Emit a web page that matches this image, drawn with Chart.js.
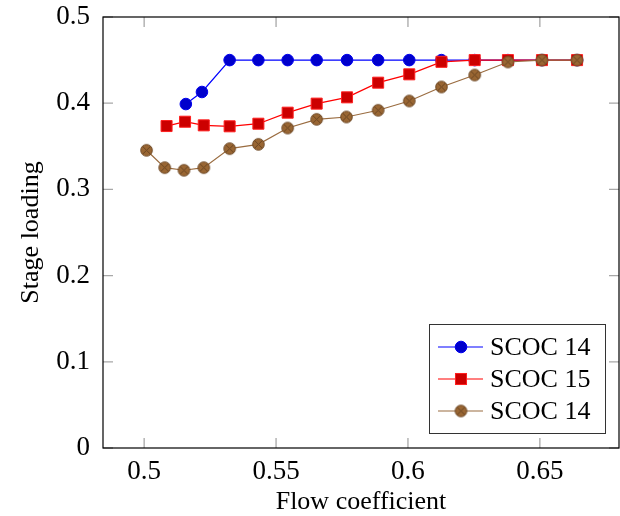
<!DOCTYPE html>
<html>
<head>
<meta charset="utf-8">
<script src="https://cdn.jsdelivr.net/npm/chart.js@4/dist/chart.umd.min.js"></script>
<style>
  html, body { margin: 0; padding: 0; background: #fff; }
  #wrap { width: 620px; height: 516px; }
</style>
</head>
<body>
<div id="wrap"><canvas id="myChart" width="620" height="516"></canvas></div>
<script>
// valeurs
const flowBlue = [0.5158, 0.5219, 0.5324, 0.5433, 0.5544, 0.5654, 0.5769, 0.5887, 0.6005, 0.6127, 0.6253, 0.6379, 0.6508, 0.6641];
const loadBlue = [0.399, 0.413, 0.45, 0.45, 0.45, 0.45, 0.45, 0.45, 0.45, 0.45, 0.45, 0.45, 0.45, 0.45];

const flowRed = [0.5085, 0.5155, 0.5226, 0.5324, 0.5433, 0.5544, 0.5654, 0.5769, 0.5887, 0.6005, 0.6127, 0.6253, 0.6379, 0.6508, 0.6641];
const loadRed = [0.3735, 0.3785, 0.3743, 0.3732, 0.3762, 0.389, 0.3995, 0.4068, 0.4238, 0.4335, 0.448, 0.45, 0.45, 0.45, 0.45];

const flowBrown = [0.5009, 0.5078, 0.5151, 0.5226, 0.5324, 0.5433, 0.5544, 0.5654, 0.5767, 0.5887, 0.6005, 0.6127, 0.6253, 0.6379, 0.6508, 0.6641];
const loadBrown = [0.3454, 0.3252, 0.3222, 0.3252, 0.3473, 0.3523, 0.3712, 0.3813, 0.384, 0.3918, 0.4026, 0.4188, 0.4327, 0.4478, 0.45, 0.45];

const seriesNames = ['SCOC 14', 'SCOC 15', 'SCOC 14'];
const xTicks = [0.5, 0.55, 0.6, 0.65];
const yTicks = [0, 0.1, 0.2, 0.3, 0.4, 0.5];

const serif = "'Liberation Serif', 'DejaVu Serif', serif";

// marque cercle avec croix (otimes)
const makeOtimes = (r) => {
  const c = document.createElement('canvas');
  const s = Math.ceil(2 * r + 3);
  c.width = s; c.height = s;
  const g = c.getContext('2d');
  const m = s / 2;
  g.fillStyle = '#996633';
  g.strokeStyle = '#6a4522';
  g.lineWidth = 1;
  g.beginPath(); g.arc(m, m, r, 0, 2 * Math.PI); g.fill(); g.stroke();
  const d = r * Math.SQRT1_2;
  g.beginPath();
  g.moveTo(m - d, m - d); g.lineTo(m + d, m + d);
  g.moveTo(m + d, m - d); g.lineTo(m - d, m + d);
  g.stroke();
  return c;
};
const otimes = makeOtimes(5.8);

const toPoints = (xs, ys) => xs.map((x, i) => ({ x: x, y: ys[i] }));

// cadre, graduations vers l'interieur et legende
const axisPlugin = {
  id: 'axisBox',
  afterDraw(chart) {
    const ctx = chart.ctx;
    const a = chart.chartArea;
    const xs = chart.scales.x, ys = chart.scales.y;
    ctx.save();
    ctx.strokeStyle = '#a8a8a8';
    ctx.lineWidth = 1.3;
    const tl = 10;
    xTicks.forEach(v => {
      const px = xs.getPixelForValue(v);
      ctx.beginPath();
      ctx.moveTo(px, a.bottom); ctx.lineTo(px, a.bottom - tl);
      ctx.moveTo(px, a.top); ctx.lineTo(px, a.top + tl);
      ctx.stroke();
    });
    yTicks.forEach(v => {
      const py = ys.getPixelForValue(v);
      ctx.beginPath();
      ctx.moveTo(a.left, py); ctx.lineTo(a.left + tl, py);
      ctx.moveTo(a.right, py); ctx.lineTo(a.right - tl, py);
      ctx.stroke();
    });
    ctx.strokeStyle = '#000';
    ctx.lineWidth = 1.2;
    ctx.strokeRect(a.left, a.top, a.right - a.left, a.bottom - a.top);

    // legende
    const bx = 429, by = 324, bw = 176, bh = 109;
    ctx.fillStyle = '#fff';
    ctx.fillRect(bx, by, bw, bh);
    ctx.strokeStyle = '#333';
    ctx.lineWidth = 1;
    ctx.strokeRect(bx + 0.5, by + 0.5, bw, bh);
    const rows = [347, 379, 411];
    chart.data.datasets.forEach((ds, i) => {
      const y = rows[i];
      ctx.strokeStyle = ds.borderColor;
      ctx.lineWidth = ds.borderWidth;
      ctx.beginPath(); ctx.moveTo(438, y); ctx.lineTo(483, y); ctx.stroke();
      const mx = 461;
      if (ds.pointStyle === 'circle') {
        ctx.fillStyle = ds.pointBackgroundColor;
        ctx.strokeStyle = ds.pointBorderColor;
        ctx.lineWidth = 1;
        ctx.beginPath(); ctx.arc(mx, y, ds.pointRadius, 0, 2 * Math.PI); ctx.fill(); ctx.stroke();
      } else if (ds.pointStyle === 'rect') {
        const h = ds.pointRadius * Math.SQRT1_2;
        ctx.fillStyle = ds.pointBackgroundColor;
        ctx.strokeStyle = ds.pointBorderColor;
        ctx.lineWidth = 1;
        ctx.fillRect(mx - h, y - h, 2 * h, 2 * h);
        ctx.strokeRect(mx - h, y - h, 2 * h, 2 * h);
      } else {
        ctx.drawImage(ds.pointStyle, mx - ds.pointStyle.width / 2, y - ds.pointStyle.height / 2);
      }
      ctx.fillStyle = '#000';
      ctx.font = '26px ' + serif;
      ctx.textAlign = 'left';
      ctx.textBaseline = 'middle';
      ctx.fillText(ds.label, 490, y + 1);
    });
    ctx.restore();
  }
};

const ctx = document.getElementById('myChart').getContext('2d');
const config = {
  type: 'line',
  data: {
    datasets: [{
      label: seriesNames[0],
      data: toPoints(flowBlue, loadBlue),
      borderColor: '#0000ff',
      borderWidth: 1.2,
      pointStyle: 'circle',
      pointRadius: 5.8,
      pointBackgroundColor: '#0000cc',
      pointBorderColor: '#0000ee',
      pointBorderWidth: 1,
      order: 3
    }, {
      label: seriesNames[1],
      data: toPoints(flowRed, loadRed),
      borderColor: '#ff0000',
      borderWidth: 1.2,
      pointStyle: 'rect',
      pointRadius: 7.8,
      pointBackgroundColor: '#cc0000',
      pointBorderColor: '#ff2020',
      pointBorderWidth: 1,
      order: 2
    }, {
      label: seriesNames[2],
      data: toPoints(flowBrown, loadBrown),
      borderColor: '#9a6c40',
      borderWidth: 1.2,
      pointStyle: otimes,
      pointRadius: 5.8,
      order: 1
    }]
  },
  options: {
    responsive: false,
    animation: false,
    layout: { autoPadding: false, padding: { top: 17, right: 1, left: 0, bottom: 0 } },
    plugins: { legend: { display: false }, tooltip: { enabled: false } },
    scales: {
      x: {
        type: 'linear',
        min: 0.4844,
        max: 0.68,
        grid: { display: false },
        border: { display: false },
        afterBuildTicks: (s) => { s.ticks = xTicks.map(v => ({ value: v })); },
        afterFit: (s) => { s.height = 68; s.paddingLeft = 0; s.paddingRight = 0; },
        ticks: {
          color: '#000',
          padding: 0,
          maxRotation: 0,
          font: { family: serif, size: 27 },
          callback: (v) => String(+v.toFixed(2))
        },
        title: {
          display: true,
          text: 'Flow coefficient',
          color: '#000',
          font: { family: serif, size: 26 },
          padding: { top: 0, bottom: -2 }
        }
      },
      y: {
        type: 'linear',
        min: 0,
        max: 0.5,
        grid: { display: false },
        border: { display: false },
        afterBuildTicks: (s) => { s.ticks = yTicks.map(v => ({ value: v })); },
        afterFit: (s) => { s.width = 103; s.paddingTop = 0; s.paddingBottom = 0; },
        ticks: {
          color: '#000',
          padding: 5,
          font: { family: serif, size: 27 },
          callback: (v) => String(+v.toFixed(1))
        },
        title: {
          display: true,
          text: 'Stage loading',
          color: '#000',
          font: { family: serif, size: 26 },
          padding: { top: 16, bottom: 0 }
        }
      }
    }
  },
  plugins: [axisPlugin]
};
const myChart = new Chart(ctx, config);
</script>
</body>
</html>
